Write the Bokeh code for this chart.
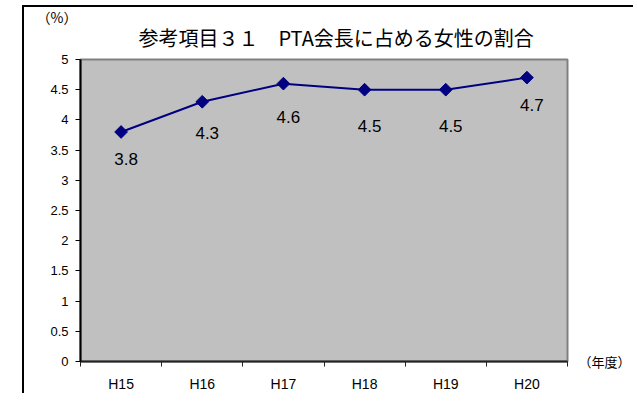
from bokeh.plotting import figure
from bokeh.models import Range1d, FixedTicker, Title, ColumnDataSource, LinearAxis
from bokeh.core.properties import value
from bokeh.embed import file_html
from bokeh.resources import INLINE
import math

# ---- data ----
categories = ["H15", "H16", "H17", "H18", "H19", "H20"]
values = [3.8, 4.3, 4.6, 4.5, 4.5, 4.7]
value_labels = ["3.8", "4.3", "4.6", "4.5", "4.5", "4.7"]
y_ticks = [0, 0.5, 1, 1.5, 2, 2.5, 3, 3.5, 4, 4.5, 5]
y_tick_labels = ["0", "0.5", "1", "1.5", "2", "2.5", "3", "3.5", "4", "4.5", "5"]
title_text = "参考項目３１　PTA会長に占める女性の割合"
y_unit = "（%）"
x_unit = "（年度）"

# label pixel offsets (style: where each value label sits under its point)
label_dy = [27, 31, 33, 36, 36, 27]

JP = "Noto Sans CJK JP"
NUM = "Liberation Sans"

xs = [i + 0.5 for i in range(len(categories))]
src = ColumnDataSource(dict(x=xs, y=values, t=value_labels, dy=label_dy))

p = figure(width=611, height=388, output_backend="svg", toolbar_location=None,
           title=None,
           x_range=Range1d(0, len(categories)), y_range=Range1d(0, 5),
           min_border_left=56, min_border_right=68, min_border_top=52, min_border_bottom=34)
p.margin = (5, 0, 0, 22)
p.styles = {"border-left": "2px solid #000000", "border-top": "2px solid #000000"}

p.background_fill_color = "#C0C0C0"
p.border_fill_color = "#FFFFFF"
p.outline_line_color = "#808080"
p.outline_line_width = 2
p.xgrid.visible = False
p.ygrid.visible = False

# y axis
p.yaxis.ticker = FixedTicker(ticks=y_ticks)
p.yaxis.major_label_overrides = {t: l for t, l in zip(y_ticks, y_tick_labels)}
p.yaxis.major_tick_out = 5
p.yaxis.major_tick_in = 0
p.yaxis.minor_tick_out = 0
p.yaxis.minor_tick_in = 0
p.yaxis.axis_line_color = "#000000"
p.yaxis.axis_line_width = 2
p.yaxis.major_tick_line_color = "#000000"
p.yaxis.major_label_standoff = 7
p.yaxis.major_label_text_font = NUM
p.yaxis.major_label_text_font_size = "13px"
p.yaxis.major_label_text_color = "#000000"

# x axis: labels at category centres, ticks between categories
p.xaxis.ticker = FixedTicker(ticks=xs, minor_ticks=list(range(len(categories) + 1)))
p.xaxis.major_label_overrides = {x: c for x, c in zip(xs, categories)}
p.xaxis.major_tick_out = 0
p.xaxis.major_tick_in = 0
p.xaxis.minor_tick_out = 5
p.xaxis.minor_tick_in = 0
p.xaxis.minor_tick_line_color = "#222222"
p.xaxis.axis_line_color = "#222222"
p.xaxis.axis_line_width = 2
p.xaxis.major_label_standoff = 9
p.xaxis.major_label_text_font = NUM
p.xaxis.major_label_text_font_size = "14px"
p.xaxis.major_label_text_color = "#000000"

# unit label for the category axis, shown at the right end of the x axis
unit_axis = LinearAxis(ticker=FixedTicker(ticks=[0]), major_label_overrides={0: x_unit})
unit_axis.axis_line_color = None
unit_axis.major_tick_line_color = None
unit_axis.minor_tick_line_color = None
unit_axis.major_tick_out = 0
unit_axis.major_tick_in = 0
unit_axis.major_label_standoff = 11
unit_axis.major_label_text_font = JP
unit_axis.major_label_text_font_size = "13px"
unit_axis.major_label_text_color = "#000000"
p.add_layout(unit_axis, "right")

# titles (side panels, so they are not clipped to the frame)
p.add_layout(Title(text=title_text, align="left", offset=58, standoff=16,
                   text_font=JP, text_font_size="20px", text_font_style="normal",
                   text_color="#000000"), "above")
p.add_layout(Title(text=y_unit, align="left", offset=-44, standoff=-28,
                   text_font=JP, text_font_size="14px", text_font_style="normal",
                   text_color="#000000"), "above")

# series
p.line("x", "y", source=src, line_color="#000080", line_width=2)
p.scatter("x", "y", source=src, marker="square", angle=math.pi / 4, size=9,
          fill_color="#000080", line_color="#000080")
p.text("x", "y", text="t", source=src, x_offset=5, y_offset="dy",
       text_align="center", text_baseline="middle",
       text_font=value(NUM), text_font_size="17px", text_color="#000000")

open("out.html", "w").write(file_html(p, INLINE))
